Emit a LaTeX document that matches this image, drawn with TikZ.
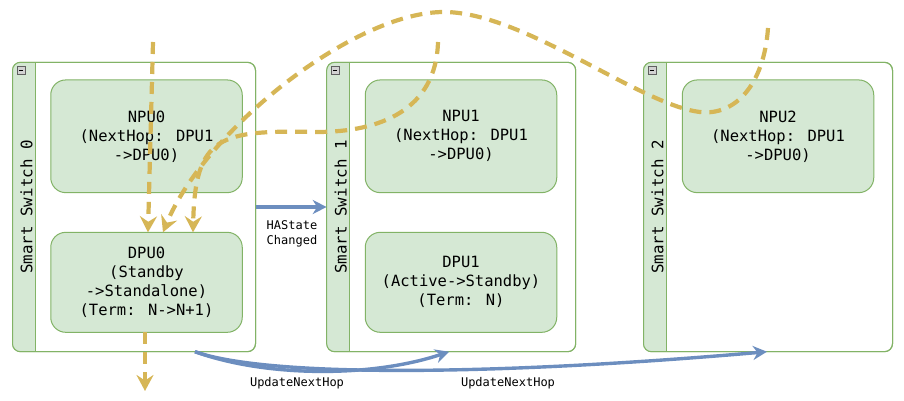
\documentclass[tikz,border=0pt]{standalone}
\usepackage{fontspec}
\newfontfamily\monofont{DejaVu Sans Mono}
\usetikzlibrary{arrows.meta}
\definecolor{boxfill}{HTML}{D5E8D4}
\definecolor{boxline}{HTML}{82B366}
\definecolor{ylw}{HTML}{D6B656}
\definecolor{blu}{HTML}{6C8EBF}
\tikzset{
  container/.style={draw=boxline, fill=white, rounded corners=8pt, line width=1pt,
    minimum height=289.4pt, inner sep=0pt, outer sep=0pt},
  inner/.style={draw=boxline, fill=boxfill, rounded corners=15pt, line width=1pt,
    minimum width=191.5pt, align=center, inner sep=0pt, outer sep=0pt,
    font=\monofont\fontsize{15.5}{19}\selectfont},
  stripelabel/.style={rotate=90, font=\monofont\fontsize{15.8}{19}\selectfont, inner sep=0pt},
  lbl/.style={align=center, font=\monofont\fontsize{12}{15}\selectfont, inner sep=0pt},
  ydash/.style={draw=ylw, line width=4.2pt, dash pattern=on 12pt off 8pt,
    -{Stealth[length=16pt,width=17pt,inset=5.5pt]}},
  barrow/.style={draw=blu, line width=3.4pt,
    -{Stealth[length=14pt,width=14pt,inset=4.5pt]}},
}
\begin{document}
\begin{tikzpicture}[x=1pt,y=-1pt]
\useasboundingbox (0,0) rectangle (904,401);

% containers
\node[container, minimum width=243pt] (sw0) at (134,207) {};
\node[container, minimum width=249pt] (sw1) at (451.2,207) {};
\node[container, minimum width=249pt] (sw2) at (768,207) {};

\foreach \s/\n in {sw0/0, sw1/1, sw2/2} {
  \begin{scope}
    \clip (\s.north west) rectangle ([xshift=23pt]\s.south west);
    \fill[boxfill, rounded corners=8pt] (\s.north west) rectangle (\s.south east);
  \end{scope}
  \draw[boxline, line width=1pt] ([xshift=23pt]\s.north west) -- ([xshift=23pt]\s.south west);
  \draw[boxline, line width=1pt, rounded corners=8pt] (\s.north west) rectangle (\s.south east);
  \node[stripelabel] at ([xshift=14pt]\s.west) {Smart Switch \n};
  \draw[fill=gray!35, draw=gray!75!black, line width=0.6pt]
    ([shift={(4.5,4.5)}]\s.north west) rectangle ([shift={(12.5,12.5)}]\s.north west);
  \draw[black, line width=1pt]
    ([shift={(6.3,8.5)}]\s.north west) -- ([shift={(10.7,8.5)}]\s.north west);
}

% inner boxes
\node[inner, minimum height=112.7pt] (npu0) at (146.5,136.3) {NPU0\\(NextHop: DPU1\\->DPU0)};
\node[inner, minimum height=100pt] (dpu0) at (146.5,282.3) {DPU0\\(Standby\\->Standalone)\\(Term: N->N+1)};
\node[inner, minimum height=112.7pt] (npu1) at (461,136.3) {NPU1\\(NextHop: DPU1\\->DPU0)};
\node[inner, minimum height=100pt] (dpu1) at (461,282.3) {DPU1\\(Active->Standby)\\(Term: N)};
\node[inner, minimum height=112.7pt] (npu2) at (778,136.3) {NPU2\\(NextHop: DPU1\\->DPU0)};

% blue connectors
\draw[barrow] (sw0.east) -- (sw1.west);
\node[lbl] (hastate) at (292,233.5) {HAState\\Changed};
\draw[barrow] ([xshift=61pt]sw0.south) .. controls (265,377) and (370,378) .. ([xshift=-2pt]sw1.south);
\draw[barrow] ([xshift=61pt]sw0.south) .. controls (270,378) and (500,375) .. ([xshift=-1pt]sw2.south);
\node[lbl] (upd1) at (297,383) {UpdateNextHop};
\node[lbl] (upd2) at (508,383) {UpdateNextHop};

% yellow dashed connectors
\coordinate (ya) at (768,28);
\coordinate (yb) at (438,42);
\coordinate (yc) at (153,42);
\coordinate (yd) at (145,391);
\draw[ydash] (ya) .. controls (764,85) and (735,116) .. (700,112)
  .. controls (640,105) and (525,13) .. (445,12)
  .. controls (355,11) and (205,130) .. ([xshift=16.5pt]dpu0.north);
\draw[ydash] (yb) .. controls (436,110) and (380,132) .. (317,132)
  .. controls (220,130) and (195,135) .. ([xshift=46.5pt]dpu0.north);
\draw[ydash] (yc) -- ([xshift=1.5pt]dpu0.north);
\draw[ydash] ([xshift=-1.5pt]dpu0.south) -- (yd);
\end{tikzpicture}
\end{document}
